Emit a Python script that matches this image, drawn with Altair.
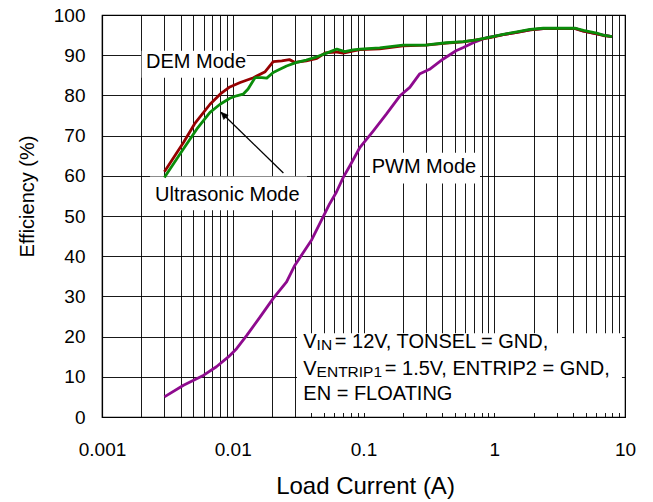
import altair as alt
import pandas as pd

FONT = "Liberation Sans"

# ---- data ----
dem_x = [0.003, 0.0042, 0.0051, 0.0067, 0.008, 0.0095, 0.0114, 0.0144, 0.0177, 0.0204,
         0.0237, 0.0271, 0.030, 0.0365, 0.044, 0.051, 0.061, 0.070, 0.084, 0.094,
         0.133, 0.2, 0.3, 0.43, 0.58, 0.73, 0.93, 1.17, 1.49, 1.88, 2.37, 4.18, 4.81,
         6.07, 6.8, 7.96]
dem_y = [61.0, 68.3, 72.9, 77.8, 80.3, 82.1, 83.2, 84.4, 85.9, 88.4,
         88.6, 88.9, 88.2, 88.6, 89.2, 90.6, 90.8, 90.5, 91.1, 91.4,
         91.6, 92.3, 92.5, 93.0, 93.3, 93.8, 94.4, 95.1, 95.7, 96.3, 96.6, 96.6, 96.0,
         95.3, 94.9, 94.6]

ultra_x = [0.003, 0.00395, 0.0053, 0.0067, 0.008, 0.0095, 0.0107, 0.012, 0.0131, 0.0148,
           0.0167, 0.0182, 0.0204, 0.0223, 0.0258, 0.0308, 0.0365, 0.044, 0.051, 0.0625,
           0.072, 0.083, 0.094, 0.133, 0.2, 0.3, 0.33, 0.43, 0.58, 0.73, 0.93, 1.17,
           1.49, 1.88, 2.37, 4.18, 4.81, 6.07, 6.8, 7.96]
ultra_y = [59.6, 65.4, 71.6, 75.8, 77.8, 79.3, 79.9, 80.3, 81.6, 84.4,
           84.4, 84.3, 85.7, 86.3, 87.3, 88.2, 88.8, 89.6, 90.4, 91.5,
           90.9, 91.3, 91.5, 91.8, 92.5, 92.5, 92.7, 93.1, 93.4, 93.8, 94.5, 95.2,
           95.8, 96.4, 96.7, 96.7, 96.2, 95.5, 95.0, 94.6]

pwm_x = [0.003, 0.0042, 0.006, 0.0075, 0.0093, 0.0107, 0.0128, 0.0162, 0.0204, 0.0258,
         0.0298, 0.0402, 0.049, 0.055, 0.062, 0.070, 0.0787, 0.094, 0.119, 0.15,
         0.19, 0.226, 0.268, 0.32, 0.405, 0.51, 0.58, 0.69, 0.88, 1.17, 1.49, 1.88,
         2.37, 4.18, 4.81, 6.07, 7.96]
pwm_y = [5.0, 7.9, 10.4, 12.5, 15.0, 17.0, 20.3, 24.9, 29.5, 33.6,
         37.7, 44.1, 49.7, 53.0, 55.9, 59.6, 62.5, 67.1, 71.2, 75.4,
         79.9, 82.0, 85.3, 86.5, 89.0, 91.1, 91.9, 93.1, 94.4, 95.1, 95.7, 96.3,
         96.6, 96.6, 96.0, 95.3, 94.6]

series_names = ["PWM Mode", "DEM Mode", "Ultrasonic Mode"]
series_colors = ["#8e0a8e", "#960000", "#0a8c0a"]

x_decades = [0.001, 0.01, 0.1, 1]
x_mults = [1, 2, 3, 4, 5, 6, 7, 8, 9]
x_label_vals = [0.001, 0.01, 0.1, 1, 10]
x_label_text = ["0.001", "0.01", "0.1", "1", "10"]
y_ticks = [0, 10, 20, 30, 40, 50, 60, 70, 80, 90, 100]

# annotation boxes (white backgrounds behind labels)
box_x = [0.00201, 0.00233, 0.1121, 0.031]
box_x2 = [0.01279, 0.03698, 0.778, 9.48]
box_y = [84.4, 51.4, 58.06, 0.99]
box_y2 = [91.1, 59.8, 65.76, 20.84]

# label texts
main_text = ["DEM Mode", "Ultrasonic Mode", "PWM Mode", "V", "V", "EN = FLOATING"]
main_x = [0.00217, 0.002543, 0.1155, 0.03464, 0.03464, 0.03464]
main_y = [86.85, 53.85, 60.6, 17.05, 10.42, 4.22]

sub1_text = ["IN"]
sub2_text = ["ENTRIP1"]
rest1_text = [" = 12V, TONSEL = GND,"]
rest2_text = [" = 1.5V, ENTRIP2 = GND,"]

# arrow
arrow_x = [0.0244]
arrow_y = [60.7]
arrow_x2 = [0.00813]
arrow_y2 = [75.8]

# ---- scales / axes ----
x_grid_vals = [d * m for d in x_decades for m in x_mults] + [10]
label_expr = " : ".join(
    f"abs(datum.value - {v}) < {v * 1e-6} ? '{t}'" for v, t in zip(x_label_vals, x_label_text)
) + " : ''"

x_scale = alt.Scale(type="log", domain=[0.001, 10], nice=False)
y_scale = alt.Scale(domain=[0, 100], nice=False)

x_axis = alt.Axis(values=x_grid_vals, labelExpr=label_expr, title="Load Current (A)",
                  grid=True, gridColor="black", gridWidth=1, gridOpacity=0.9,
                  ticks=False, domainColor="black", domainWidth=1.2,
                  labelFont=FONT, labelFontSize=19, labelColor="black",
                  labelPadding=38, labelBaseline="alphabetic", labelFlush=False,
                  labelOverlap=False, labelBound=False,
                  titleFont=FONT, titleFontSize=24, titleFontWeight="normal", titleColor="black",
                  titleX=263, titleY=76, titleAlign="center", titleBaseline="alphabetic")
y_axis = alt.Axis(values=y_ticks, title="Efficiency (%)",
                  grid=True, gridColor="black", gridWidth=1, gridOpacity=0.9,
                  ticks=False, domainColor="black", domainWidth=1.2,
                  labelFont=FONT, labelFontSize=19, labelColor="black", labelPadding=17,
                  labelOverlap=False,
                  titleFont=FONT, titleFontSize=20, titleFontWeight="normal", titleColor="black",
                  titleAngle=270, titleX=-75, titleY=181, titleAlign="center", titleBaseline="middle")

X = alt.X("x:Q", scale=x_scale, axis=x_axis)
Y = alt.Y("y:Q", scale=y_scale, axis=y_axis)

# ---- layers ----
boxes = alt.Chart(pd.DataFrame({"x": box_x, "x2": box_x2, "y": box_y, "y2": box_y2})).mark_rect(
    fill="white", strokeWidth=0
).encode(x=X, x2="x2:Q", y=Y, y2="y2:Q")

line_layers = []
for name, xs, ys, col in [(series_names[0], pwm_x, pwm_y, series_colors[0]),
                          (series_names[1], dem_x, dem_y, series_colors[1]),
                          (series_names[2], ultra_x, ultra_y, series_colors[2])]:
    df = pd.DataFrame({"x": xs, "y": ys, "mode": name})
    line_layers.append(
        alt.Chart(df).mark_line(color=col, strokeWidth=2.8, strokeJoin="round").encode(x=X, y=Y)
    )

arrow = alt.Chart(pd.DataFrame({"x": arrow_x, "y": arrow_y, "x2": arrow_x2, "y2": arrow_y2})).mark_rule(
    color="black", strokeWidth=1.3
).encode(x=X, x2="x2:Q", y=Y, y2="y2:Q")

arrow_head = alt.Chart(pd.DataFrame({"x": arrow_x2, "y": arrow_y2})).mark_point(
    shape="M0,0L-0.45,1L0.45,1Z", filled=True, fill="black", stroke="black", strokeWidth=0.5,
    size=200, angle=315, opacity=1
).encode(x=X, y=Y)

main_df = pd.DataFrame({"x": main_x, "y": main_y, "t": main_text})
main_labels = alt.Chart(main_df).mark_text(
    font=FONT, fontSize=20, align="left", baseline="alphabetic", color="black"
).encode(x=X, y=Y, text="t:N")

sub1 = alt.Chart(pd.DataFrame({"x": [main_x[3]], "y": [main_y[3]], "t": sub1_text})).mark_text(
    font=FONT, fontSize=15.5, align="left", baseline="alphabetic", color="black", dx=13.3, dy=2
).encode(x=X, y=Y, text="t:N")
sub2 = alt.Chart(pd.DataFrame({"x": [main_x[4]], "y": [main_y[4]], "t": sub2_text})).mark_text(
    font=FONT, fontSize=15.5, align="left", baseline="alphabetic", color="black", dx=13.3, dy=2
).encode(x=X, y=Y, text="t:N")
rest1 = alt.Chart(pd.DataFrame({"x": [main_x[3]], "y": [main_y[3]], "t": rest1_text})).mark_text(
    font=FONT, fontSize=20, align="left", baseline="alphabetic", color="black", dx=31.5
).encode(x=X, y=Y, text="t:N")
rest2 = alt.Chart(pd.DataFrame({"x": [main_x[4]], "y": [main_y[4]], "t": rest2_text})).mark_text(
    font=FONT, fontSize=20, align="left", baseline="alphabetic", color="black", dx=81.5
).encode(x=X, y=Y, text="t:N")

chart = alt.layer(
    boxes, *line_layers, arrow, arrow_head, main_labels, sub1, sub2, rest1, rest2
).properties(
    width=523, height=402,
    padding={"left": 94, "top": 7, "right": 20, "bottom": 82},
    autosize=alt.AutoSizeParams(type="none"),
    background="white",
).configure_view(stroke="black", strokeWidth=1.2)

chart.save("out.html", embed_options={"renderer": "svg", "actions": False})
